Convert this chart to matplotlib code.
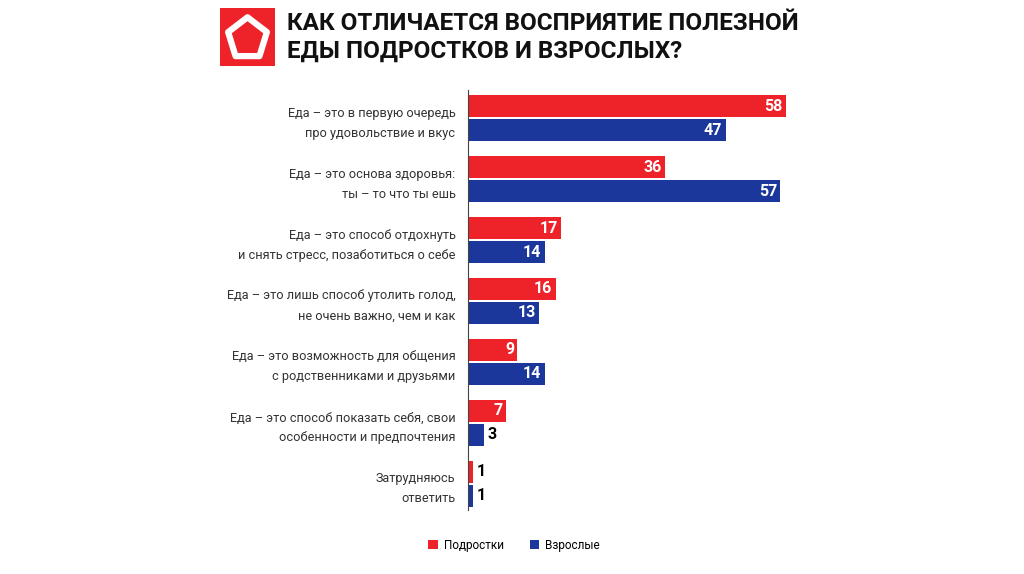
import numpy as np
import matplotlib.pyplot as plt
from matplotlib.patches import Rectangle, RegularPolygon

categories = [
    'Еда – это в первую очередь\nпро удовольствие и вкус',
    'Еда – это основа здоровья:\nты – то что ты ешь',
    'Еда – это способ отдохнуть\nи снять стресс, позаботиться о себе',
    'Еда – это лишь способ утолить голод,\nне очень важно, чем и как',
    'Еда – это возможность для общения\nс родственниками и друзьями',
    'Еда – это способ показать себя, свои\nособенности и предпочтения',
    'Затрудняюсь\nответить',
]
teens = [58, 36, 17, 16, 9, 7, 1]
adults = [47, 57, 14, 13, 14, 3, 1]
series_names = ['Подростки', 'Взрослые']

red = '#EE2229'
blue = '#1B379B'
plt.rcParams['font.family'] = ['Roboto', 'DejaVu Sans']

fig = plt.figure(figsize=(10.24, 5.74), dpi=100)
ax = fig.add_axes([0.457, 0.1115, 0.348, 0.7315])

y = np.arange(len(categories))
off = 0.197
h = 0.36
ax.barh(y - off, teens, height=h, color=red, label=series_names[0])
ax.barh(y + off, adults, height=h, color=blue, label=series_names[1])

# подписи значений: белые внутри бара, чёрные снаружи для маленьких
for vals, dy in [(teens, -off), (adults, off)]:
    for i, v in enumerate(vals):
        if v >= 7:
            ax.text(v - 0.6, i + dy, str(v), ha='right', va='center',
                    color='white', fontsize=11.5, fontweight='bold')
        else:
            ax.text(v + 0.6, i + dy, str(v), ha='left', va='center',
                    color='black', fontsize=11.5, fontweight='bold')

ax.set_xlim(0, 65)
ax.set_ylim(6.43, -0.46)
ax.set_xticks([])
ax.set_yticks(y)
ax.set_yticklabels(categories, fontsize=9.2, color='#333333', linespacing=1.7)
ax.tick_params(axis='y', length=0, pad=9)
for s in ['top', 'right', 'bottom']:
    ax.spines[s].set_visible(False)
ax.spines['left'].set_color('#444444')
ax.spines['left'].set_linewidth(0.8)

# логотип
lax = fig.add_axes([220 / 1024, 1 - 66 / 574, 55 / 1024, 58 / 574])
lax.set_xlim(0, 1)
lax.set_ylim(0, 1)
lax.axis('off')
lax.add_patch(Rectangle((0, 0), 1, 1, color=red))
lax.add_patch(RegularPolygon((0.5, 0.47), 5, radius=0.37, orientation=0,
                             fill=False, edgecolor='white', linewidth=4.5,
                             joinstyle='round'))

fig.text(287 / 1024, 1 - 37 / 574, 'КАК ОТЛИЧАЕТСЯ ВОСПРИЯТИЕ ПОЛЕЗНОЙ\nЕДЫ ПОДРОСТКОВ И ВЗРОСЛЫХ?',
         fontsize=17.5, fontweight='bold', color='#111111', va='center', ha='left',
         linespacing=1.25)

fig.legend(loc='center', bbox_to_anchor=(0.502, 1 - 545 / 574), ncol=2, frameon=False,
           fontsize=8.5, handlelength=0.8, handleheight=0.8, columnspacing=2.2,
           handletextpad=0.5)

fig.savefig('out.png', dpi=100)
